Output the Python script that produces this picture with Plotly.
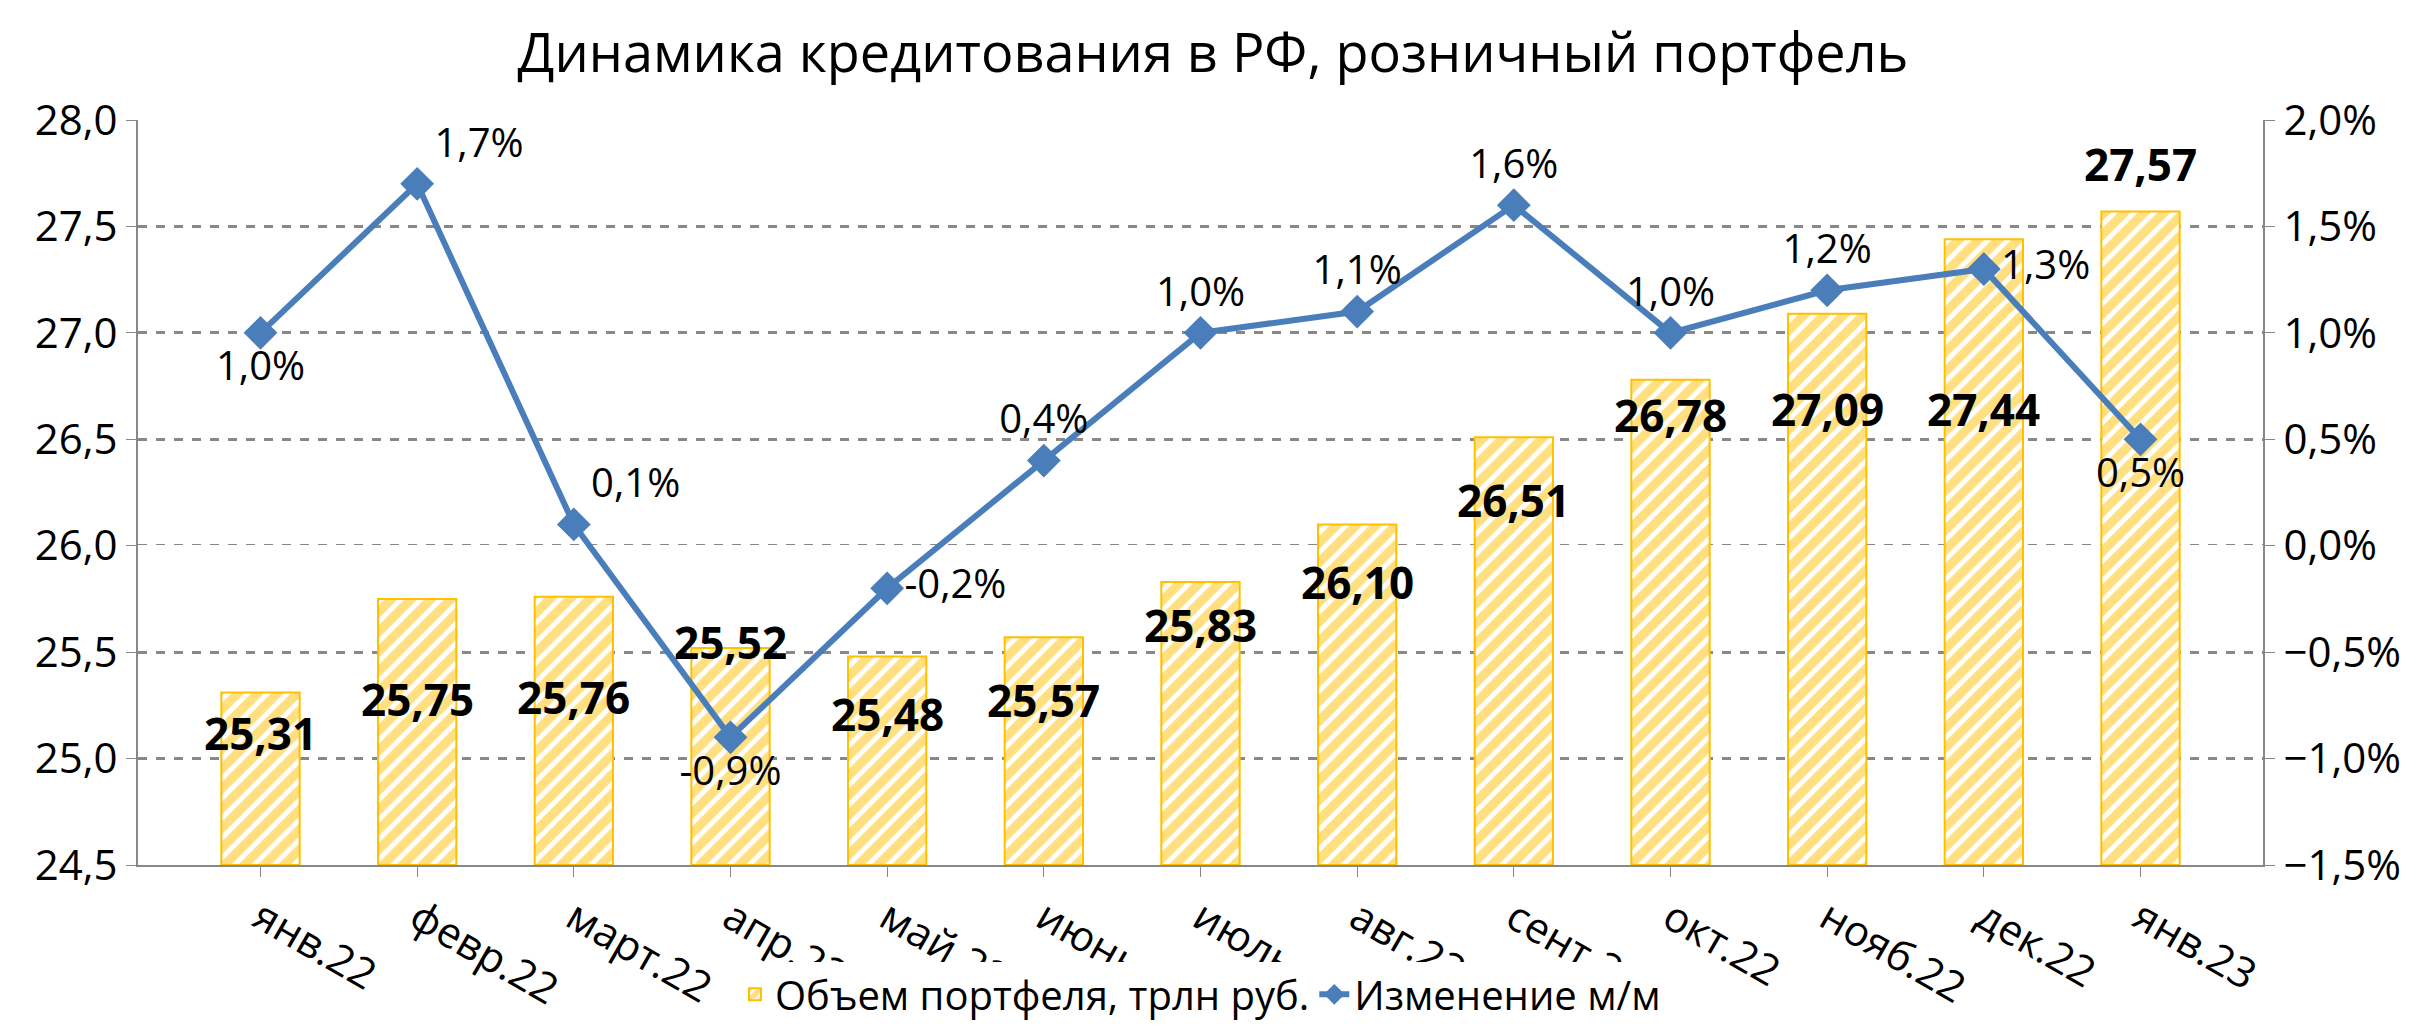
import plotly.graph_objects as go

months = ["янв.22","февр.22","март.22","апр.22","май.22","июнь.22","июль.22","авг.22","сент.22","окт.22","нояб.22","дек.22","янв.23"]
portfolio = [25.31,25.75,25.76,25.52,25.48,25.57,25.83,26.10,26.51,26.78,27.09,27.44,27.57]
change = [1.0,1.7,0.1,-0.9,-0.2,0.4,1.0,1.1,1.6,1.0,1.2,1.3,0.5]

bar_label_shift = [-40,-100,-100,6,-58,-63,-43,-58,-63,-35,-95,-170,48]
pct_pos = ["bottom center","top right","top right","bottom center","middle right","top center",
           "top center","top center","top center","top center","top center","middle right","bottom center"]

fig = go.Figure()
fig.add_trace(go.Bar(x=months, y=[p-24.5 for p in portfolio], base=24.5, width=0.5,
    name="Объем портфеля, трлн руб.",
    marker=dict(color="white", line=dict(color="#FFC000", width=2),
                pattern=dict(shape="/", fgcolor="#FFC000", bgcolor="white", size=14, solidity=0.65))))
fig.add_trace(go.Scatter(x=months, y=change, yaxis="y2", mode="lines+markers+text",
    name="Изменение м/м", line=dict(color="#4A7EBB", width=6),
    marker=dict(symbol="diamond", size=26, color="#4A7EBB"),
    text=[f"{v:.1f}%".replace(".", ",") for v in change], textposition=pct_pos,
    textfont=dict(size=40, color="black")))
for m, p, s in zip(months, portfolio, bar_label_shift):
    fig.add_annotation(x=m, y=p, text=f"<b>{p:.2f}</b>".replace(".", ","), showarrow=False,
                       yshift=s, font=dict(size=44, color="black"))

axis_common = dict(showline=True, linecolor="#888", linewidth=2, ticks="outside", tickcolor="#888",
                   ticklen=10, tickfont=dict(size=42, color="black"))
fig.update_layout(
    width=2410, height=1031, separators=", ", paper_bgcolor="white", plot_bgcolor="white",
    font=dict(family="Open Sans, Liberation Sans, sans-serif"),
    title=dict(text="Динамика кредитования в РФ, розничный портфель", x=0.5, y=0.975,
               font=dict(size=54, color="black")),
    margin=dict(l=130, r=155, t=112, b=156),
    xaxis=dict(**axis_common),
    yaxis=dict(range=[24.5, 28], dtick=0.5, tickformat=".1f", gridcolor="#888", griddash="dash",
               gridwidth=3, **axis_common),
    yaxis2=dict(range=[-1.5, 2], dtick=0.5, overlaying="y", side="right", ticksuffix="%",
                tickformat=".1f", showgrid=False, **axis_common),
    legend=dict(orientation="h", x=0.5, xanchor="center", y=-0.13, yanchor="top",
                font=dict(size=40, color="black")),
    showlegend=True,
)
fig.write_html("out.html")
